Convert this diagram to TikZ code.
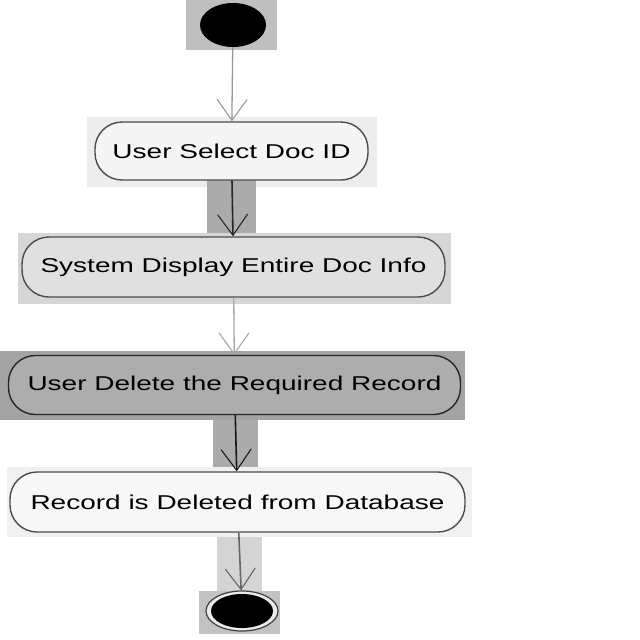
\documentclass[tikz,border=0pt]{standalone}
\usepackage{fontspec}
\setmainfont{Liberation Sans}
\usetikzlibrary{arrows.meta,shapes.geometric}
\newcommand{\widetext}[1]{\scalebox{1.4}[1]{#1}}
\begin{document}
\begin{tikzpicture}[x=1pt,y=-1pt,
  actbox/.style={draw=black!70, line width=1.4pt, rounded corners=27pt,
    text=black, font=\fontsize{20}{24}\selectfont, inner sep=0pt},
  flow/.style={line width=1.6pt, -{Straight Barb[length=21pt,width=30pt,line width=1.1pt]}},
  hl/.style={draw=none}]
\useasboundingbox (0,0) rectangle (640,640);
\fill[white] (0,0) rectangle (640,640);
% highlight rectangles
\fill[black!25] (186,0) rectangle (277,50);
\fill[black!7] (87,117) rectangle (377,187);
\fill[black!33] (207,180) rectangle (256,237);
\fill[black!16] (18,233) rectangle (451,304);
\fill[black!36] (0,351) rectangle (465,420);
\fill[black!33] (213,420) rectangle (258,472);
\fill[black!6] (7,467) rectangle (472,537);
\fill[black!17] (217,537) rectangle (262,591);
\fill[black!24] (199,591) rectangle (280,634);
% nodes
\node[ellipse, fill=black, minimum width=66pt, minimum height=44pt, inner sep=0pt] (start) at (233,25) {};
\node[actbox, fill=black!4, minimum width=273pt, minimum height=58pt] (n1) at (231.5,151) {\widetext{User Select Doc ID}};
\node[actbox, fill=black!12, minimum width=423pt, minimum height=60pt] (n2) at (233.5,267) {\widetext{System Display Entire Doc Info}};
\node[actbox, fill=black!32, draw=black!85, minimum width=452pt, minimum height=59pt] (n3) at (234.5,385) {\widetext{User Delete the Required Record}};
\node[actbox, fill=black!3, minimum width=455pt, minimum height=60pt] (n4) at (237.5,502) {\widetext{Record is Deleted from Database}};
\node[ellipse, draw=black!75, line width=1.2pt, fill=black!8, minimum width=72pt, minimum height=40pt, inner sep=0pt,
  path picture={\fill[black] (path picture bounding box.center) ellipse (31pt and 17pt);}] (end) at (242,611) {};
% connectors
\draw[flow, draw=black!40, line width=1.3pt] (start) -- (n1);
\draw[flow, draw=black!85] (n1) -- (n2);
\draw[flow, draw=black!35, line width=1.3pt] (n2) -- (n3);
\draw[flow, draw=black!90] (n3) -- (n4);
\draw[flow, draw=black!60] (n4) -- (end);
\end{tikzpicture}
\end{document}
